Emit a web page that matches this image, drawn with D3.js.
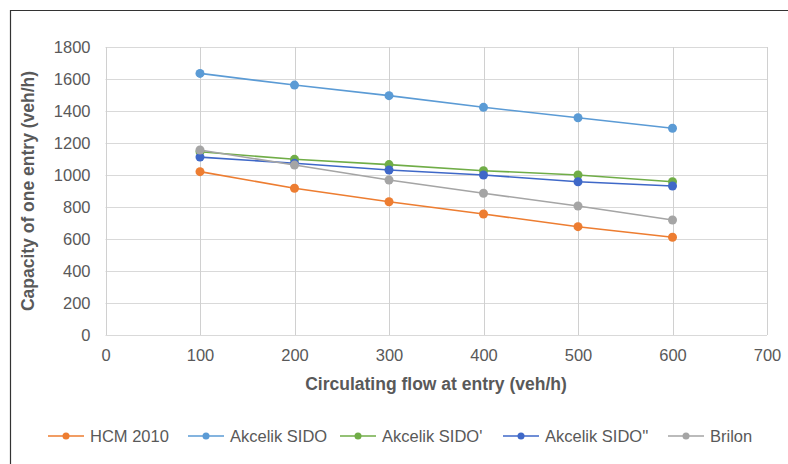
<!DOCTYPE html>
<html>
<head>
<meta charset="utf-8">
<script src="https://cdn.jsdelivr.net/npm/d3@7"></script>
<style>
  html, body { margin: 0; padding: 0; background: #fff; }
  svg { display: block; font-family: "Liberation Sans", Arial, sans-serif; }
</style>
</head>
<body>
<svg id="chart" width="788" height="464"></svg>
<script>
const circulatingFlow = [100, 200, 300, 400, 500, 600];
const hcm2010 = [1021, 917, 833, 756, 677, 611];
const akcelikA = [1635, 1562, 1496, 1423, 1358, 1292];
const akcelikB = [1145, 1098, 1065, 1027, 1000, 958];
const akcelikC = [1112, 1073, 1031, 1000, 958, 931];
const brilon = [1156, 1062, 969, 886, 806, 719];
const seriesNames = ["HCM 2010", "Akcelik SIDO", "Akcelik SIDO'", "Akcelik SIDO''", "Brilon"];
const seriesColors = ["#ED7D31", "#5B9BD5", "#70AD47", "#3F68C8", "#A5A5A5"];
const xTicks = [0, 100, 200, 300, 400, 500, 600, 700];
const yTicks = [0, 200, 400, 600, 800, 1000, 1200, 1400, 1600, 1800];
const xTitle = "Circulating flow at entry (veh/h)";
const yTitle = "Capacity of one entry (veh/h)";

const seriesValues = [hcm2010, akcelikA, akcelikB, akcelikC, brilon];
const series = seriesNames.map((name, i) => ({
  name, color: seriesColors[i],
  points: circulatingFlow.map((x, j) => ({ x, y: seriesValues[i][j] }))
}));

const svg = d3.select("#chart");
const plotLeft = 105.5, plotRight = 767, plotTop = 47, plotBottom = 335;
const textColor = "#595959";

// frame
svg.append("path").attr("d", "M10.5,470 V10.5 H790")
  .attr("fill", "none").attr("stroke", "#333").attr("stroke-width", 1.2);

const x = d3.scaleLinear().domain([0, 700]).range([plotLeft, plotRight]);
const y = d3.scaleLinear().domain([0, 1800]).range([plotBottom, plotTop]);

// gridlines
const grid = svg.append("g");
grid.selectAll(".hg").data(yTicks).join("line")
  .attr("x1", plotLeft).attr("x2", plotRight)
  .attr("y1", d => Math.round(y(d)) + 0.5).attr("y2", d => Math.round(y(d)) + 0.5)
  .attr("stroke", "#d9d9d9").attr("stroke-width", 1);
grid.selectAll(".vg").data(xTicks).join("line")
  .attr("y1", plotTop).attr("y2", plotBottom)
  .attr("x1", d => Math.round(x(d)) + 0.5).attr("x2", d => Math.round(x(d)) + 0.5)
  .attr("stroke", "#d0d0d0").attr("stroke-width", 1);

// axes (labels only)
const xAxis = svg.append("g").attr("transform", `translate(0,${plotBottom})`)
  .call(d3.axisBottom(x).tickValues(xTicks).tickFormat(d3.format("d")).tickSize(0).tickPadding(14));
const yAxis = svg.append("g").attr("transform", `translate(${plotLeft},0)`)
  .call(d3.axisLeft(y).tickValues(yTicks).tickFormat(d3.format("d")).tickSize(0).tickPadding(15));
[xAxis, yAxis].forEach(a => {
  a.select(".domain").remove();
  a.selectAll("text").attr("fill", textColor).style("font-size", "16.5px")
    .style("font-family", "'Liberation Sans', Arial, sans-serif");
});

// axis titles
svg.append("text").attr("x", 436).attr("y", 390).attr("text-anchor", "middle")
  .attr("fill", textColor).style("font-size", "17.5px").style("font-weight", "bold")
  .text(xTitle);
svg.append("text").attr("transform", `translate(34,${(plotTop + plotBottom) / 2}) rotate(-90)`)
  .attr("text-anchor", "middle").attr("fill", textColor)
  .style("font-size", "17.5px").style("font-weight", "bold").text(yTitle);

// series
const line = d3.line().x(d => x(d.x)).y(d => y(d.y));
const sg = svg.append("g").selectAll("g").data(series).join("g");
sg.append("path").attr("d", d => line(d.points)).attr("fill", "none")
  .attr("stroke", d => d.color).attr("stroke-width", 1.6);
sg.selectAll("circle").data(d => d.points.map(p => ({ ...p, color: d.color }))).join("circle")
  .attr("cx", d => x(d.x)).attr("cy", d => y(d.y)).attr("r", 4.5)
  .attr("fill", d => d.color);

// legend
const legendX = [48, 188, 340, 503, 668];
const lg = svg.append("g").selectAll("g").data(series).join("g")
  .attr("transform", (d, i) => `translate(${legendX[i]},436)`);
lg.append("line").attr("x1", 0).attr("x2", 36).attr("y1", 0).attr("y2", 0)
  .attr("stroke", d => d.color).attr("stroke-width", 1.6);
lg.append("circle").attr("cx", 18).attr("cy", 0).attr("r", 3.5).attr("fill", d => d.color);
lg.append("text").attr("x", 42).attr("y", 6).attr("fill", textColor)
  .style("font-size", "16.5px").text(d => d.name);
</script>
</body>
</html>
